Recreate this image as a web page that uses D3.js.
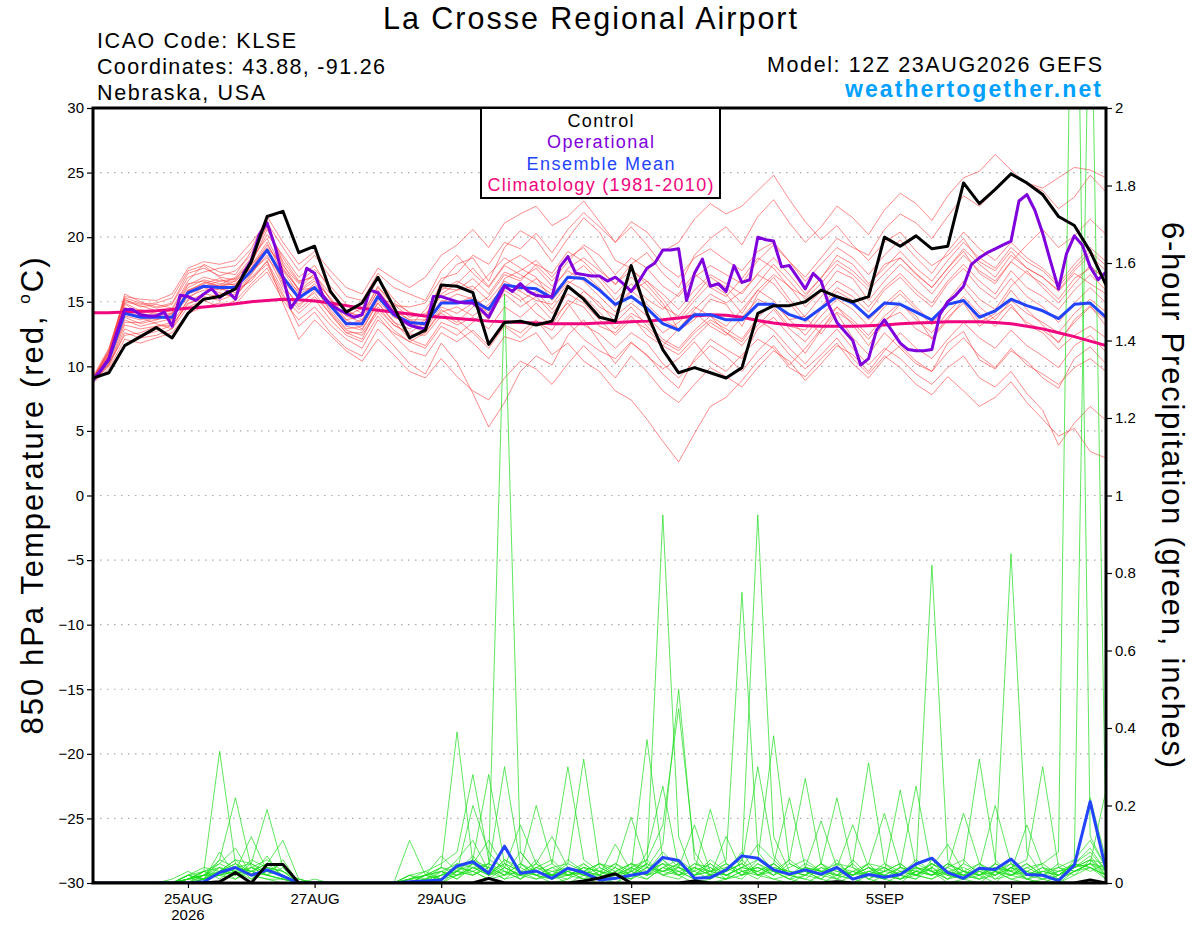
<!DOCTYPE html>
<html>
<head>
<meta charset="utf-8">
<script src="https://cdn.jsdelivr.net/npm/d3@7"></script>
<style>
body { margin: 0; background: #fff; }
svg { font-family: "Liberation Sans", Arial, Helvetica, sans-serif; }
</style>
</head>
<body>
<svg id="chart" width="1200" height="927"></svg>
<script>
// GEFS run 12Z 23AUG2026, 6-hourly members, 3-hourly operational
var runStart = Date.UTC(2026, 7, 23, 12);
var hourMs = 3600 * 1000;

var tickDates = [Date.UTC(2026, 7, 25), Date.UTC(2026, 7, 27), Date.UTC(2026, 7, 29),
    Date.UTC(2026, 8, 1), Date.UTC(2026, 8, 3), Date.UTC(2026, 8, 5), Date.UTC(2026, 8, 7)];
var tickLabels = ['25AUG', '27AUG', '29AUG', '1SEP', '3SEP', '5SEP', '7SEP'];
var tempTicks = [-30, -25, -20, -15, -10, -5, 0, 5, 10, 15, 20, 25, 30];
var precipTicks = [0, 0.2, 0.4, 0.6, 0.8, 1, 1.2, 1.4, 1.6, 1.8, 2];

// 850 hPa temperature (C)
var controlTemp = [9.1, 9.5, 11.6, 12.3, 13.0, 12.2, 14.1, 15.2, 15.4, 16.0,
    18.1, 21.6, 22.0, 18.8, 19.3, 15.8, 14.2, 14.9, 16.9, 14.6,
    12.2, 12.8, 16.3, 16.2, 15.7, 11.7, 13.4, 13.5, 13.2, 13.5,
    16.2, 15.2, 13.8, 13.5, 17.8, 14.1, 11.3, 9.5, 9.9, 9.5,
    9.1, 9.9, 14.1, 14.7, 14.7, 15.0, 15.9, 15.4, 15.0, 15.4,
    20.0, 19.3, 20.1, 19.1, 19.3, 24.2, 22.6, 23.7, 24.9, 24.2,
    23.3, 21.6, 20.9, 18.9, 16.3];

var operationalTemp = [9.0, 9.7, 10.6, 12.6, 14.4, 14.4, 14.0, 13.9, 13.9, 14.2,
    13.1, 15.5, 15.4, 15.1, 15.6, 16.0, 15.3, 15.8, 15.2, 17.2,
    18.2, 20.2, 21.1, 19.3, 16.9, 14.5, 15.4, 17.6, 17.2, 15.5,
    14.8, 14.4, 14.1, 13.8, 14.0, 15.9, 15.7, 14.9, 14.1, 13.6,
    13.2, 13.0, 12.9, 15.4, 15.4, 15.2, 15.0, 14.9, 14.9, 14.4,
    13.8, 15.0, 16.2, 15.8, 16.4, 15.8, 15.5, 15.4, 15.4, 17.7,
    18.5, 17.2, 17.1, 17.0, 17.0, 16.6, 16.9, 16.4, 15.8, 16.6,
    17.6, 18.0, 19.0, 19.0, 19.1, 15.1, 17.2, 18.3, 16.2, 16.4,
    15.8, 17.8, 16.5, 16.7, 20.0, 19.8, 19.7, 17.7, 17.8, 16.9,
    16.0, 17.2, 16.6, 14.7, 13.4, 12.7, 12.0, 10.1, 10.6, 12.8,
    13.6, 12.7, 11.8, 11.3, 11.2, 11.2, 11.3, 14.0, 15.0, 15.5,
    16.2, 17.9, 18.4, 18.8, 19.1, 19.4, 19.7, 22.8, 23.3, 22.1,
    20.3, 18.1, 16.0, 18.7, 20.1, 19.4, 17.7, 16.7, 17.3];

var meanTemp = [8.9, 10.5, 14.1, 13.8, 13.8, 13.8, 15.7, 16.2, 16.1, 16.1,
    17.4, 19.0, 16.9, 15.3, 16.1, 14.7, 13.3, 13.3, 15.4, 14.0,
    13.4, 13.3, 14.9, 14.9, 15.1, 14.4, 16.3, 16.1, 16.0, 15.3,
    16.9, 16.8, 15.9, 14.8, 15.4, 14.5, 13.3, 12.8, 14.0, 14.0,
    13.6, 13.6, 14.8, 14.8, 14.0, 13.6, 14.5, 15.4, 14.9, 13.8,
    14.9, 14.8, 14.2, 13.6, 14.8, 15.1, 13.8, 14.3, 15.2, 14.7,
    14.3, 13.7, 14.8, 14.9, 13.8];

var climoTemp = [14.15, 14.15, 14.2, 14.25, 14.3, 14.4, 14.5, 14.6, 14.7, 14.85,
    15.0, 15.1, 15.2, 15.15, 15.05, 14.9, 14.7, 14.5, 14.35, 14.2,
    14.05, 13.9, 13.8, 13.7, 13.6, 13.5, 13.45, 13.4, 13.35, 13.3,
    13.3, 13.3, 13.35, 13.4, 13.45, 13.5, 13.6, 13.75, 13.9, 14.0,
    13.95, 13.8, 13.55, 13.35, 13.2, 13.15, 13.1, 13.1, 13.1, 13.15,
    13.2, 13.3, 13.35, 13.4, 13.45, 13.45, 13.45, 13.4, 13.3, 13.1,
    12.9, 12.6, 12.3, 11.95, 11.6];

var tempMembers = [
    [9.0, 10.8, 15.6, 15.0, 14.6, 14.9, 17.2, 17.6, 17.0, 17.4, 18.6, 21.3, 17.5, 16.0, 17.2, 15.1, 13.9, 14.5, 16.8, 15.2,
     14.1, 13.8, 16.5, 17.9, 18.4, 16.6, 19.2, 20.5, 19.8, 18.1, 19.9, 21.5, 20.4, 18.2, 17.6, 16.3, 14.9, 12.8, 13.6, 15.2,
     14.8, 13.1, 15.6, 16.9, 15.2, 13.8, 12.5, 14.1, 12.2, 10.9, 12.6, 11.4, 10.2, 9.6, 11.8, 12.7, 10.5, 9.8, 11.2, 10.4,
     9.1, 8.3, 10.6, 11.5, 10.2],
    [8.8, 10.1, 12.9, 12.4, 12.7, 13.2, 14.8, 15.4, 15.1, 15.6, 16.8, 17.9, 15.6, 13.1, 14.2, 12.6, 11.4, 10.8, 12.9, 11.6,
     10.2, 9.4, 11.8, 10.3, 7.9, 5.3, 7.2, 9.6, 10.8, 10.1, 12.4, 13.6, 11.9, 10.2, 11.8, 10.9, 9.4, 8.3, 10.6, 12.1,
     11.3, 10.6, 12.9, 13.8, 12.4, 11.0, 12.8, 14.6, 13.2, 11.6, 13.4, 14.8, 13.9, 12.1, 13.6, 15.2, 13.4, 14.1, 15.9, 14.4,
     13.2, 11.8, 13.6, 14.7, 13.1],
    [9.1, 11.2, 14.9, 14.3, 14.0, 14.1, 16.3, 16.9, 16.6, 16.8, 18.1, 20.2, 18.6, 16.9, 17.8, 15.9, 14.2, 13.9, 15.8, 14.3,
     13.6, 13.1, 14.9, 15.6, 15.2, 14.1, 16.8, 17.4, 18.2, 16.9, 18.4, 19.2, 17.6, 16.3, 17.9, 18.8, 17.2, 16.1, 18.6, 19.9,
     20.8, 19.4, 21.6, 22.9, 21.1, 19.6, 20.8, 22.4, 21.5, 20.2, 22.1, 23.4, 22.6, 21.3, 23.2, 24.6, 25.1, 26.4, 25.2, 24.1,
     23.6, 22.2, 23.1, 24.8, 23.5],
    [8.9, 10.3, 13.6, 13.1, 13.4, 13.7, 15.4, 15.9, 16.0, 15.7, 17.2, 18.6, 16.2, 14.8, 15.7, 14.0, 12.6, 12.1, 14.6, 13.2,
     12.5, 12.4, 13.9, 13.2, 13.8, 12.9, 14.6, 13.8, 14.9, 13.6, 14.9, 13.2, 12.5, 11.4, 12.6, 11.8, 10.2, 9.1, 10.4, 11.6,
     10.8, 9.6, 11.2, 12.4, 10.9, 9.8, 10.9, 12.2, 10.6, 9.4, 10.8, 9.9, 8.6, 7.8, 9.2, 8.1, 6.9, 7.6, 8.8, 7.2,
     5.9, 4.6, 5.2, 3.4, 2.9],
    [9.0, 10.6, 14.3, 14.4, 14.1, 13.5, 15.9, 16.4, 16.8, 16.2, 17.8, 19.6, 17.1, 15.3, 16.4, 14.9, 13.1, 12.8, 14.9, 13.5,
     12.1, 11.6, 13.4, 12.9, 11.8, 10.6, 12.3, 11.9, 12.6, 10.9, 11.8, 10.4, 9.6, 8.1, 7.4, 5.9, 4.2, 2.6, 4.8, 6.9,
     7.6, 8.9, 10.4, 11.6, 10.1, 11.4, 12.9, 14.2, 13.4, 12.1, 13.6, 14.2, 12.9, 12.2, 13.8, 14.9, 13.1, 13.9, 14.8, 13.2,
     12.6, 11.3, 12.4, 13.1, 12.2],
    [9.2, 11.4, 15.2, 14.6, 14.8, 14.5, 16.6, 17.9, 17.3, 17.1, 18.9, 20.8, 18.1, 16.5, 17.5, 16.2, 14.8, 14.1, 16.1, 14.7,
     14.6, 14.9, 16.8, 17.2, 18.6, 17.9, 19.6, 19.1, 20.3, 18.8, 20.6, 21.9, 20.8, 19.6, 21.2, 20.4, 18.9, 19.6, 21.4, 22.6,
     21.8, 22.4, 23.6, 24.8, 22.9, 21.2, 19.8, 20.9, 19.4, 18.2, 19.6, 20.4, 18.9, 17.8, 18.6, 19.9, 18.1, 17.4, 18.9, 17.6,
     16.9, 15.8, 17.2, 16.4, 15.6],
    [8.7, 9.8, 12.1, 11.8, 12.2, 12.6, 14.1, 14.6, 14.9, 14.8, 16.2, 17.3, 15.1, 13.6, 14.6, 13.2, 12.1, 11.4, 13.6, 12.6,
     11.9, 12.6, 14.2, 14.6, 13.9, 14.8, 16.2, 15.4, 14.1, 13.2, 15.1, 14.6, 13.1, 12.6, 13.9, 12.4, 11.6, 12.9, 14.2, 13.1,
     12.4, 13.8, 15.2, 14.6, 13.1, 12.8, 14.4, 15.8, 15.1, 13.6, 14.8, 15.9, 14.6, 13.4, 15.1, 16.6, 15.2, 14.4, 16.2, 17.4,
     16.1, 14.9, 16.4, 17.8, 16.6],
    [9.0, 10.9, 14.6, 13.9, 13.6, 13.9, 15.8, 16.5, 16.2, 16.6, 17.6, 19.2, 17.8, 16.4, 17.1, 15.6, 14.4, 13.6, 15.2, 14.9,
     14.2, 13.9, 15.6, 16.4, 17.6, 16.2, 17.9, 18.6, 17.8, 16.6, 18.1, 19.4, 18.6, 17.1, 18.4, 17.6, 16.2, 15.4, 16.9, 17.8,
     17.1, 16.4, 18.2, 19.4, 18.1, 16.9, 18.4, 19.9, 19.2, 18.6, 20.6, 21.8, 21.1, 19.9, 21.6, 23.2, 22.4, 23.6, 24.9, 24.2,
     23.8, 24.6, 25.4, 25.2, 24.6],
    [8.8, 10.2, 13.2, 12.9, 13.1, 13.4, 15.1, 15.6, 15.4, 15.9, 16.6, 18.2, 14.9, 12.1, 13.6, 12.4, 11.2, 10.4, 12.1, 10.9,
     9.6, 9.1, 10.6, 9.2, 8.1, 7.4, 9.1, 10.4, 9.8, 8.6, 10.2, 11.6, 10.4, 9.1, 10.8, 9.6, 8.1, 7.2, 8.6, 9.9,
     9.2, 8.4, 9.9, 11.2, 10.4, 8.9, 10.2, 11.6, 10.9, 9.6, 11.2, 12.6, 11.4, 10.6, 12.1, 13.4, 12.2, 11.4, 12.8, 11.6,
     10.8, 9.9, 11.6, 12.4, 11.1],
    [9.1, 11.0, 15.0, 14.7, 14.3, 14.2, 16.1, 16.7, 16.4, 16.3, 17.9, 20.6, 18.4, 16.6, 16.9, 14.6, 13.4, 13.2, 15.4, 13.9,
     13.1, 14.4, 16.1, 15.9, 16.8, 15.6, 17.3, 16.8, 17.6, 16.2, 17.4, 16.6, 15.4, 14.2, 15.8, 16.6, 15.2, 13.6, 15.1, 16.4,
     15.6, 14.1, 15.9, 17.1, 16.2, 14.6, 15.8, 17.4, 16.8, 15.1, 16.6, 17.9, 16.8, 15.6, 17.2, 18.6, 17.4, 16.6, 18.1, 19.4,
     20.6, 19.2, 20.1, 21.4, 20.2],
    [8.9, 10.4, 13.9, 13.6, 13.9, 13.6, 15.6, 16.1, 15.7, 15.4, 17.1, 18.9, 16.6, 15.2, 16.1, 14.4, 12.9, 13.1, 15.1, 13.8,
     13.4, 12.9, 14.6, 14.1, 14.9, 13.6, 15.9, 15.1, 15.8, 14.4, 16.1, 15.4, 14.2, 12.9, 14.1, 13.4, 12.1, 11.4, 12.8, 13.9,
     12.6, 11.9, 13.6, 12.8, 11.4, 10.2, 11.6, 12.9, 11.4, 10.1, 11.4, 10.6, 9.4, 8.6, 9.9, 10.8, 9.1, 8.4, 9.6, 7.9,
     6.6, 3.9, 5.6, 6.9, 5.8],
    [9.0, 11.3, 15.4, 15.2, 15.1, 15.6, 17.6, 18.1, 17.9, 18.2, 19.6, 21.1, 19.2, 17.4, 18.6, 16.9, 15.4, 15.1, 17.2, 16.1,
     15.6, 15.1, 17.4, 18.6, 17.2, 16.1, 17.8, 17.1, 16.4, 15.6, 16.9, 17.8, 16.6, 15.1, 16.4, 15.2, 14.4, 15.6, 17.2, 16.1,
     15.4, 16.8, 18.4, 17.6, 16.1, 15.4, 16.9, 18.2, 17.4, 16.2, 17.9, 18.4, 17.1, 16.1, 17.6, 18.9, 17.2, 16.4, 18.1, 17.2,
     16.4, 15.2, 16.8, 17.6, 16.9],
    [8.8, 10.0, 12.6, 12.2, 12.4, 12.9, 14.6, 15.1, 14.6, 15.1, 16.4, 17.6, 15.4, 14.1, 15.2, 13.6, 12.4, 11.9, 13.9, 12.4,
     11.2, 10.8, 12.6, 11.9, 12.8, 11.6, 13.2, 12.6, 13.6, 12.1, 13.4, 12.1, 11.2, 10.6, 11.9, 10.8, 9.8, 10.6, 11.9, 10.4,
     9.6, 10.9, 12.1, 11.4, 9.9, 9.2, 10.6, 11.8, 10.2, 9.1, 10.6, 11.6, 10.4, 9.6, 11.1, 12.2, 10.8, 9.9, 11.4, 10.1,
     9.4, 8.6, 9.9, 10.6, 9.6],
    [9.1, 11.1, 15.3, 14.9, 14.5, 14.8, 16.9, 17.3, 17.6, 17.8, 19.1, 21.6, 19.6, 17.9, 18.9, 17.4, 16.1, 15.6, 17.6, 16.8,
     16.1, 16.9, 18.6, 19.4, 20.6, 19.2, 21.1, 21.8, 22.4, 20.9, 21.6, 22.8, 21.2, 19.6, 20.8, 19.4, 17.8, 16.9, 18.4, 19.1,
     18.2, 17.4, 18.9, 19.6, 18.1, 16.6, 17.9, 19.2, 18.4, 17.1, 18.6, 19.8, 18.4, 17.2, 18.9, 20.4, 19.1, 18.2, 19.6, 18.4,
     17.6, 16.4, 17.9, 19.2, 18.1],
    [9.0, 10.7, 14.4, 13.8, 13.3, 12.9, 15.2, 16.2, 16.3, 16.9, 18.4, 19.9, 17.4, 15.6, 16.2, 14.2, 12.8, 12.4, 14.2, 12.8,
     11.9, 11.4, 13.1, 12.4, 13.4, 14.6, 16.4, 15.8, 15.1, 14.8, 16.4, 17.2, 16.1, 14.6, 15.9, 14.8, 13.6, 12.9, 14.4, 15.6,
     14.9, 15.8, 17.1, 16.4, 14.9, 13.4, 14.6, 16.1, 15.4, 14.2, 15.9, 16.9, 15.6, 14.6, 16.4, 17.6, 16.1, 15.2, 16.8, 15.4,
     14.6, 13.4, 14.9, 16.1, 14.9],
    [8.9, 10.5, 13.4, 13.4, 13.8, 14.0, 15.9, 16.3, 15.9, 16.1, 17.4, 18.4, 16.9, 15.8, 16.6, 15.3, 13.9, 13.4, 15.6, 14.1,
     13.2, 12.6, 14.4, 13.6, 12.6, 11.4, 13.1, 12.2, 13.4, 12.8, 14.6, 15.8, 14.9, 13.4, 14.6, 13.1, 11.9, 11.2, 12.6, 13.6,
     12.9, 12.1, 13.8, 14.9, 13.6, 12.4, 13.9, 15.2, 14.4, 13.1, 14.6, 15.6, 14.4, 13.2, 14.9, 16.1, 14.6, 13.6, 15.1, 14.1,
     13.4, 12.6, 14.1, 15.2, 14.2],
    [9.0, 10.9, 14.8, 14.1, 13.9, 14.4, 16.4, 16.6, 16.2, 16.4, 17.6, 19.4, 17.6, 15.9, 16.8, 15.2, 13.6, 13.9, 16.2, 14.8,
     13.8, 14.1, 15.4, 15.9, 16.2, 15.1, 16.6, 15.9, 16.8, 15.9, 17.6, 18.4, 17.4, 16.4, 17.4, 16.6, 15.6, 14.4, 15.9, 17.1,
     16.4, 15.6, 17.2, 18.4, 17.1, 15.6, 16.8, 18.6, 17.9, 16.4, 17.6, 18.9, 17.6, 16.6, 18.2, 19.6, 18.4, 17.6, 19.2, 18.1,
     17.4, 16.2, 17.6, 18.9, 17.8],
    [8.8, 10.2, 12.4, 12.6, 13.1, 13.2, 14.9, 15.2, 15.6, 15.4, 16.9, 18.1, 15.9, 14.4, 15.4, 14.1, 12.6, 12.6, 14.4, 13.2,
     12.6, 13.4, 15.1, 14.9, 15.4, 14.4, 15.6, 14.6, 15.4, 14.1, 15.6, 14.9, 13.6, 12.4, 13.6, 12.9, 11.6, 10.9, 12.2, 13.4,
     12.6, 11.6, 13.2, 14.4, 12.9, 11.9, 13.4, 14.6, 13.6, 12.4, 13.9, 14.9, 13.6, 12.6, 14.2, 15.4, 14.1, 13.1, 14.6, 13.4,
     12.8, 11.9, 13.4, 14.6, 13.6],
    [9.1, 11.1, 15.1, 14.8, 14.9, 15.3, 17.4, 17.8, 16.9, 16.7, 18.2, 20.9, 17.9, 15.9, 16.1, 14.8, 13.6, 12.9, 14.9, 13.4,
     12.9, 13.6, 15.9, 16.6, 15.9, 17.1, 18.4, 17.6, 16.9, 15.1, 16.6, 15.9, 14.6, 13.9, 14.9, 13.9, 12.6, 13.4, 14.6, 13.9,
     13.1, 14.4, 15.9, 15.1, 13.6, 13.9, 15.4, 16.6, 15.9, 14.6, 16.1, 17.2, 15.9, 14.9, 16.6, 17.9, 16.6, 15.6, 17.4, 16.1,
     15.4, 14.4, 15.9, 17.1, 15.9],
    [8.9, 10.4, 13.8, 13.3, 13.6, 14.1, 15.6, 16.2, 16.6, 16.6, 17.9, 19.1, 16.4, 14.6, 15.9, 14.6, 13.2, 13.6, 15.9, 14.4,
     13.6, 13.6, 14.1, 13.4, 14.6, 15.4, 17.1, 16.6, 17.9, 17.2, 18.9, 18.1, 16.9, 15.6, 16.9, 15.9, 14.6, 13.9, 15.4, 16.9,
     16.1, 14.9, 16.4, 17.9, 16.6, 15.2, 16.4, 17.9, 17.1, 15.9, 17.2, 18.4, 17.2, 16.1, 17.6, 19.1, 17.9, 16.9, 18.6, 17.6,
     16.9, 15.9, 17.4, 18.6, 17.4]
];

// 6-hour precipitation (inches)
var controlPrecip = [0, 0, 0, 0, 0, 0, 0, 0, 0.003, 0.027,
    0, 0.048, 0.048, 0, 0, 0, 0, 0, 0, 0,
    0, 0, 0, 0, 0, 0.012, 0, 0, 0, 0,
    0, 0.005, 0.013, 0.024, 0, 0, 0, 0, 0.005, 0,
    0, 0, 0, 0, 0, 0, 0, 0.003, 0, 0,
    0, 0, 0, 0, 0, 0, 0, 0, 0, 0,
    0, 0, 0, 0.008, 0];

var meanPrecip = [0, 0, 0, 0, 0, 0, 0, 0.003, 0.027, 0.04,
    0.02, 0.034, 0.018, 0, 0, 0, 0, 0, 0, 0,
    0.003, 0.005, 0.008, 0.044, 0.055, 0.025, 0.095, 0.025, 0.031, 0.012,
    0.038, 0.027, 0.008, 0.012, 0.02, 0.027, 0.066, 0.058, 0.012, 0.014,
    0.034, 0.07, 0.064, 0.034, 0.023, 0.034, 0.023, 0.04, 0.01, 0.022,
    0.015, 0.022, 0.049, 0.064, 0.027, 0.012, 0.038, 0.035, 0.062, 0.022,
    0.02, 0.006, 0.046, 0.21, 0.034];

var precipMembers = [
    [0, 0, 0, 0, 0, 0, 0.01, 0.03, 0.34, 0.05, 0.02, 0.01, 0, 0, 0, 0, 0, 0, 0, 0,
     0, 0, 0.02, 0.06, 0.11, 0.03, 0.01, 0.04, 0.02, 0, 0.01, 0.05, 0.02, 0, 0.03, 0.37, 0.06, 0.02, 0, 0.01,
     0.03, 0.08, 0.02, 0.01, 0, 0.02, 0.05, 0.01, 0, 0.02, 0.01, 0.04, 0.25, 0.03, 0, 0.01, 0.02, 0, 0.04, 0.01,
     0, 0, 0.03, 0.05, 0.02],
    [0, 0, 0, 0, 0, 0, 0, 0.01, 0.06, 0.22, 0.04, 0.02, 0.01, 0, 0, 0, 0, 0, 0, 0,
     0, 0, 0, 0.03, 0.07, 0.02, 0.05, 0.01, 0.03, 0.02, 0, 0.02, 0.01, 0.04, 0.02, 0.05, 0.95, 0.12, 0.01, 0,
     0.01, 0.02, 0.06, 0.03, 0.01, 0, 0.02, 0.04, 0.01, 0, 0.02, 0.01, 0.03, 0.82, 0.06, 0.01, 0, 0.03, 0.01, 0,
     0.01, 0.02, 0.05, 0.08, 0.03],
    [0, 0, 0, 0, 0, 0, 0.02, 0.01, 0.04, 0.03, 0.12, 0.03, 0.02, 0, 0, 0, 0, 0, 0, 0,
     0, 0.01, 0, 0.02, 0.05, 0.11, 0.04, 0.02, 0.06, 0.01, 0.03, 0.01, 0, 0.02, 0.01, 0.08, 0.25, 0.04, 0.02, 0.05,
     0.02, 0.04, 0.1, 0.06, 0.02, 0.01, 0, 0.02, 0.05, 0.01, 0, 0.02, 0.01, 0.04, 0.1, 0.03, 0.01, 0.02, 0.06, 0.02,
     0.01, 0, 0.02, 0.04, 0.01],
    [0, 0, 0, 0, 0, 0, 0, 0.02, 0.03, 0.06, 0.05, 0.19, 0.04, 0, 0, 0, 0, 0, 0, 0,
     0, 0, 0.01, 0.05, 0.02, 0.04, 0.02, 0.08, 0.03, 0.02, 0.06, 0.03, 0.01, 0, 0.02, 0.04, 0.1, 0.5, 0.06, 0.02,
     0.01, 0.03, 0.04, 0.02, 0.06, 0.03, 0.01, 0, 0.02, 0.04, 0.01, 0, 0.03, 0.02, 0.04, 0.18, 0.05, 0.01, 0.02, 0.03,
     0.02, 0.01, 0.06, 0.11, 0.04],
    [0, 0, 0, 0, 0, 0, 0.01, 0.02, 0.02, 0.04, 0.03, 0.05, 0.11, 0.01, 0, 0, 0, 0, 0, 0,
     0.01, 0, 0.03, 0.01, 0.04, 0.02, 0.06, 0.03, 0.01, 0.02, 0.02, 0.04, 0.01, 0.01, 0.03, 0.06, 0.15, 0.45, 0.08, 0.02,
     0.01, 0.06, 0.02, 0.03, 0.01, 0.04, 0.02, 0.06, 0.01, 0.03, 0.02, 0.01, 0.04, 0.03, 0.01, 0.05, 0.32, 0.06, 0.02, 0.01,
     0, 0.02, 0.04, 0.06, 0.02],
    [0, 0, 0, 0, 0, 0.01, 0.03, 0.01, 0.08, 0.02, 0.06, 0.04, 0.03, 0, 0.01, 0, 0, 0, 0, 0,
     0.11, 0.02, 0.01, 0.04, 0.03, 0.01, 0.02, 0.05, 0.02, 0.01, 0.03, 0.02, 0.04, 0.02, 0.05, 0.03, 0.08, 0.04, 0.15, 0.03,
     0.02, 0.01, 0.05, 0.02, 0.04, 0.06, 0.03, 0.02, 0.01, 0.02, 0.04, 0.02, 0.01, 0.06, 0.02, 0.01, 0.04, 0.2, 0.05, 0.01,
     0.02, 0.01, 0.03, 0.05, 0.01],
    [0, 0, 0, 0, 0, 0, 0, 0.03, 0.05, 0.09, 0.02, 0.07, 0.01, 0.01, 0, 0, 0, 0, 0, 0,
     0, 0.02, 0.07, 0.03, 0.06, 0.04, 0.01, 0.02, 0.04, 0.06, 0.02, 0.01, 0.03, 0.05, 0.02, 0.01, 0.04, 0.06, 0.03, 0.19,
     0.05, 0.02, 0.03, 0.01, 0.02, 0.01, 0.04, 0.03, 0.02, 0.05, 0.01, 0.03, 0.02, 0.01, 0.03, 0.02, 0.01, 0.05, 0.85, 0.08,
     0.02, 0.01, 0.04, 0.07, 0.02],
    [0, 0, 0, 0, 0, 0, 0.01, 0.02, 0.04, 0.01, 0.04, 0.02, 0.06, 0, 0, 0, 0, 0, 0, 0,
     0, 0.01, 0.04, 0.39, 0.05, 0.02, 0.03, 0.01, 0.05, 0.02, 0.01, 0.03, 0.02, 0.01, 0.04, 0.02, 0.06, 0.03, 0.01, 0.02,
     0.12, 0.03, 0.01, 0.05, 0.02, 0.03, 0.01, 0.05, 0.04, 0.01, 0.03, 0.05, 0.02, 0.04, 0.01, 0.03, 0.02, 0.04, 0.03, 0.15,
     0.04, 0.02, 0.05, 0.09, 0.03],
    [0, 0, 0, 0, 0, 0, 0.02, 0.04, 0.03, 0.05, 0.01, 0.03, 0.02, 0, 0, 0, 0, 0, 0, 0,
     0.02, 0.03, 0.05, 0.08, 0.28, 0.06, 0.04, 0.02, 0.01, 0.03, 0.04, 0.02, 0.01, 0.03, 0.05, 0.04, 0.02, 0.01, 0.04, 0.03,
     0.06, 0.75, 0.08, 0.03, 0.01, 0.02, 0.05, 0.03, 0.02, 0.04, 0.02, 0.01, 0.03, 0.02, 0.05, 0.02, 0.03, 0.01, 0.04, 0.06,
     0.3, 0.04, 0.02, 0.06, 0.05],
    [0, 0, 0, 0, 0, 0, 0.01, 0.01, 0.02, 0.03, 0.02, 0.01, 0.01, 0, 0, 0, 0, 0, 0, 0,
     0, 0, 0.02, 0.03, 0.2, 0.08, 0.03, 0.01, 0.04, 0.02, 0.05, 0.03, 0.02, 0.04, 0.01, 0.03, 0.05, 0.02, 0.03, 0.01,
     0.04, 0.06, 0.95, 0.12, 0.03, 0.02, 0.01, 0.04, 0.02, 0.03, 0.04, 0.02, 0.06, 0.03, 0.01, 0.02, 0.05, 0.03, 0.02, 0.04,
     0.02, 0.05, 0.03, 0.04, 0.02],
    [0, 0, 0, 0, 0, 0, 0, 0.01, 0.02, 0.01, 0.03, 0.02, 0.01, 0, 0, 0, 0, 0, 0, 0,
     0.01, 0.02, 0.01, 0.04, 0.06, 0.28, 0.05, 0.03, 0.02, 0.01, 0.02, 0.04, 0.03, 0.01, 0.02, 0.05, 0.03, 0.04, 0.02, 0.06,
     0.03, 0.05, 0.3, 0.07, 0.02, 0.04, 0.03, 0.01, 0.06, 0.02, 0.01, 0.03, 0.04, 0.02, 0.03, 0.01, 0.04, 0.02, 0.05, 0.03,
     0.05, 0.08, 3.0, 0.12, 0.04],
    [0, 0, 0, 0, 0, 0, 0.01, 0.03, 0.02, 0.04, 0.05, 0.03, 0.02, 0, 0, 0, 0, 0, 0, 0,
     0, 0.01, 0.03, 0.02, 0.04, 0.05, 1.52, 0.08, 0.03, 0.02, 0.03, 0.01, 0.02, 0.05, 0.03, 0.01, 0.04, 0.02, 0.05, 0.03,
     0.02, 0.04, 0.06, 0.38, 0.05, 0.03, 0.02, 0.01, 0.03, 0.02, 0.05, 0.03, 0.02, 0.01, 0.04, 0.06, 0.02, 0.03, 0.01, 0.02,
     0.03, 0.04, 0.06, 2.5, 0.1],
    [0, 0, 0, 0, 0, 0, 0, 0.02, 0.05, 0.03, 0.01, 0.04, 0.02, 0, 0, 0, 0, 0, 0, 0,
     0.02, 0, 0.01, 0.03, 0.02, 0.04, 0.3, 0.05, 0.02, 0.04, 0.02, 0.03, 0.05, 0.02, 0.01, 0.04, 0.03, 0.05, 0.02, 0.04,
     0.01, 0.03, 0.02, 0.05, 0.22, 0.04, 0.03, 0.02, 0.01, 0.03, 0.02, 0.04, 0.03, 0.05, 0.02, 0.01, 0.03, 0.04, 0.02, 0.05,
     0.02, 0.03, 0.04, 0.22, 0.06],
    [0, 0, 0, 0, 0, 0, 0.02, 0.01, 0.03, 0.02, 0.04, 0.06, 0.03, 0.01, 0, 0, 0, 0, 0, 0,
     0, 0.02, 0.04, 0.02, 0.03, 0.01, 0.04, 0.15, 0.05, 0.02, 0.04, 0.02, 0.01, 0.03, 0.05, 0.02, 0.04, 0.03, 0.01, 0.02,
     0.05, 0.02, 0.04, 0.03, 0.06, 0.27, 0.05, 0.02, 0.03, 0.01, 0.03, 0.02, 0.05, 0.03, 0.04, 0.02, 0.01, 0.03, 0.05, 0.02,
     0.04, 0.01, 0.03, 0.05, 0.24],
    [0, 0, 0, 0, 0, 0, 0.01, 0.02, 0.06, 0.04, 0.02, 0.03, 0.05, 0, 0, 0, 0, 0, 0, 0,
     0.01, 0.02, 0.03, 0.05, 0.04, 0.02, 0.06, 0.04, 0.2, 0.05, 0.02, 0.04, 0.03, 0.02, 0.04, 0.06, 0.02, 0.04, 0.03, 0.05,
     0.02, 0.04, 0.03, 0.05, 0.02, 0.04, 0.16, 0.04, 0.02, 0.05, 0.04, 0.01, 0.02, 0.05, 0.03, 0.04, 0.02, 0.05, 0.03, 0.01,
     0.03, 0.02, 0.05, 0.04, 0.02],
    [0, 0, 0, 0, 0, 0, 0, 0.01, 0.03, 0.05, 0.03, 0.02, 0.04, 0, 0, 0, 0, 0, 0, 0,
     0, 0.01, 0.02, 0.04, 0.03, 0.05, 0.02, 0.03, 0.05, 0.12, 0.04, 0.02, 0.05, 0.03, 0.02, 0.03, 0.05, 0.02, 0.04, 0.02,
     0.03, 0.05, 0.02, 0.04, 0.03, 0.02, 0.05, 0.22, 0.04, 0.02, 0.03, 0.05, 0.02, 0.04, 0.02, 0.03, 0.05, 0.02, 0.04, 0.03,
     0.01, 0.03, 0.04, 0.06, 0.03],
    [0, 0, 0, 0, 0, 0, 0.01, 0.03, 0.04, 0.02, 0.05, 0.02, 0.01, 0, 0, 0, 0, 0, 0, 0,
     0.02, 0.01, 0.02, 0.03, 0.05, 0.02, 0.04, 0.02, 0.03, 0.05, 0.3, 0.06, 0.03, 0.02, 0.04, 0.02, 0.03, 0.05, 0.02, 0.03,
     0.04, 0.02, 0.05, 0.03, 0.02, 0.05, 0.03, 0.04, 0.15, 0.04, 0.02, 0.04, 0.03, 0.02, 0.05, 0.03, 0.02, 0.04, 0.03, 0.05,
     0.02, 0.04, 0.03, 0.05, 0.04],
    [0, 0, 0, 0, 0, 0, 0.02, 0.01, 0.03, 0.06, 0.02, 0.04, 0.03, 0, 0, 0, 0, 0, 0, 0,
     0.01, 0.03, 0.01, 0.02, 0.04, 0.03, 0.05, 0.03, 0.02, 0.04, 0.05, 0.32, 0.04, 0.02, 0.03, 0.05, 0.02, 0.03, 0.04, 0.02,
     0.03, 0.05, 0.02, 0.04, 0.03, 0.02, 0.04, 0.02, 0.05, 0.31, 0.05, 0.02, 0.04, 0.03, 0.02, 0.05, 0.03, 0.02, 0.04, 0.02,
     0.03, 0.02, 0.05, 0.03, 0.05],
    [0, 0, 0, 0, 0, 0, 0.01, 0.02, 0.02, 0.03, 0.04, 0.03, 0.02, 0, 0, 0, 0, 0, 0, 0,
     0, 0.02, 0.03, 0.01, 0.05, 0.04, 0.02, 0.05, 0.03, 0.02, 0.03, 0.05, 0.02, 0.1, 0.03, 0.02, 0.05, 0.04, 0.02, 0.03,
     0.05, 0.03, 0.04, 0.02, 0.05, 0.03, 0.02, 0.04, 0.03, 0.05, 0.18, 0.04, 0.02, 0.05, 0.03, 0.02, 0.04, 0.03, 0.02, 0.04,
     0.05, 0.02, 0.04, 0.05, 0.03],
    [0, 0, 0, 0, 0, 0, 0.02, 0.03, 0.01, 0.04, 0.03, 0.05, 0.02, 0, 0, 0, 0, 0, 0, 0,
     0.01, 0.02, 0.04, 0.03, 0.02, 0.05, 0.03, 0.02, 0.04, 0.03, 0.02, 0.03, 0.05, 0.04, 0.17, 0.04, 0.03, 0.02, 0.05, 0.04,
     0.02, 0.04, 0.03, 0.05, 0.02, 0.04, 0.03, 0.05, 0.02, 0.04, 0.03, 0.24, 0.04, 0.02, 0.05, 0.03, 0.02, 0.05, 0.03, 0.02,
     0.04, 0.03, 0.05, 0.04, 0.02]
];

var svgWidth = 1200;
var svgHeight = 927;
var margin = { top: 108, right: 94, bottom: 44, left: 93 };
var width = svgWidth - margin.left - margin.right;
var height = svgHeight - margin.top - margin.bottom;

var svg = d3.select('#chart');

var times6 = meanTemp.map((d, i) => new Date(runStart + i * 6 * hourMs));
var times3 = operationalTemp.map((d, i) => new Date(runStart + i * 3 * hourMs));

var xScale = d3.scaleUtc()
    .domain([new Date(runStart), times6[times6.length - 1]])
    .range([0, width]);
var yTemp = d3.scaleLinear().domain([-30, 30]).range([height, 0]);
var yPrecip = d3.scaleLinear().domain([0, 2]).range([height, 0]);

var chartGroup = svg.append('g')
    .attr('transform', `translate(${margin.left}, ${margin.top})`);

svg.append('defs').append('clipPath')
    .attr('id', 'plotClip')
    .append('rect')
    .attr('width', width)
    .attr('height', height);

// dotted grid on the temperature ticks
chartGroup.append('g')
    .selectAll('line')
    .data(tempTicks.slice(1, -1))
    .enter()
    .append('line')
    .attr('x1', 0)
    .attr('x2', width)
    .attr('y1', d => yTemp(d))
    .attr('y2', d => yTemp(d))
    .attr('stroke', '#aaaaaa')
    .attr('stroke-width', 1.2)
    .attr('stroke-dasharray', '1.5,5.5');

var plot = chartGroup.append('g').attr('clip-path', 'url(#plotClip)');

var tempLine6 = d3.line().x((d, i) => xScale(times6[i])).y(d => yTemp(d));
var tempLine3 = d3.line().x((d, i) => xScale(times3[i])).y(d => yTemp(d));
var precipLine = d3.line().x((d, i) => xScale(times6[i])).y(d => yPrecip(d));

plot.selectAll('.member')
    .data(tempMembers)
    .enter()
    .append('path')
    .attr('class', 'member')
    .attr('d', tempLine6)
    .attr('fill', 'none')
    .attr('stroke', '#ff3b3b')
    .attr('stroke-opacity', 0.85)
    .attr('stroke-width', 0.7);

plot.selectAll('.pmember')
    .data(precipMembers)
    .enter()
    .append('path')
    .attr('class', 'pmember')
    .attr('d', precipLine)
    .attr('fill', 'none')
    .attr('stroke', '#19dc19')
    .attr('stroke-width', 0.7);

function thickLine(data, gen, color) {
    plot.append('path')
        .datum(data)
        .attr('d', gen)
        .attr('fill', 'none')
        .attr('stroke', color)
        .attr('stroke-width', 3)
        .attr('stroke-linejoin', 'round');
}

thickLine(climoTemp, tempLine6, '#f0067e');
thickLine(meanPrecip, precipLine, '#2244ff');
thickLine(controlPrecip, precipLine, '#000000');
thickLine(meanTemp, tempLine6, '#2244ff');
thickLine(operationalTemp, tempLine3, '#7f00dd');
thickLine(controlTemp, tempLine6, '#000000');

// axes
var leftAxis = d3.axisLeft(yTemp).tickValues(tempTicks).tickSize(6).tickPadding(3);
var rightAxis = d3.axisRight(yPrecip).tickValues(precipTicks).tickSize(6).tickPadding(3)
    .tickFormat(d => d3.format('~g')(d));
var bottomAxis = d3.axisBottom(xScale)
    .tickValues(tickDates.map(d => new Date(d)))
    .tickSize(5)
    .tickPadding(5)
    .tickFormat((d, i) => tickLabels[i]);

function styleAxis(g) {
    g.select('.domain').remove();
    g.selectAll('text').attr('font-size', 15).attr('fill', '#000')
        .attr('font-family', '"Liberation Sans", Arial, sans-serif');
    g.selectAll('line').attr('stroke', '#000').attr('stroke-width', 1.2);
}

chartGroup.append('g').call(leftAxis).call(styleAxis);
chartGroup.append('g').attr('transform', `translate(${width}, 0)`).call(rightAxis).call(styleAxis);
var xg = chartGroup.append('g').attr('transform', `translate(0, ${height})`).call(bottomAxis).call(styleAxis);
xg.append('text')
    .attr('x', xScale(new Date(tickDates[0])))
    .attr('y', 37)
    .attr('text-anchor', 'middle')
    .attr('font-size', 15)
    .attr('fill', '#000')
    .text('2026');

// frame
chartGroup.append('rect')
    .attr('width', width)
    .attr('height', height)
    .attr('fill', 'none')
    .attr('stroke', '#000')
    .attr('stroke-width', 3);

// legend
var legend = chartGroup.append('g').attr('transform', 'translate(388, 0)');
legend.append('rect')
    .attr('width', 239)
    .attr('height', 90)
    .attr('fill', '#fff')
    .attr('stroke', '#000')
    .attr('stroke-width', 2);
var legendItems = [['Control', '#000000', 66], ['Operational', '#7f00dd', 107],
    ['Ensemble Mean', '#2244ff', 148], ['Climatology (1981-2010)', '#f0067e', 226]];
legend.selectAll('text')
    .data(legendItems)
    .enter()
    .append('text')
    .attr('x', 119.5)
    .attr('y', (d, i) => 19 + i * 21.4)
    .attr('text-anchor', 'middle')
    .attr('font-size', 18)
    .attr('textLength', d => d[2])
    .attr('lengthAdjust', 'spacing')
    .attr('fill', d => d[1])
    .text(d => d[0]);

// header texts
svg.append('text')
    .attr('x', 590).attr('y', 29)
    .attr('text-anchor', 'middle')
    .attr('font-size', 30.5)
    .attr('textLength', 414)
    .attr('lengthAdjust', 'spacing')
    .text('La Crosse Regional Airport');

var infoLines = [['ICAO Code: KLSE', 199], ['Coordinates: 43.88, -91.26', 288], ['Nebraska, USA', 168]];
svg.selectAll('.info')
    .data(infoLines)
    .enter()
    .append('text')
    .attr('class', 'info')
    .attr('x', 97)
    .attr('y', (d, i) => 48 + i * 26)
    .attr('font-size', 21.5)
    .attr('textLength', d => d[1])
    .attr('lengthAdjust', 'spacing')
    .text(d => d[0]);

svg.append('text')
    .attr('x', 1102).attr('y', 72)
    .attr('text-anchor', 'end')
    .attr('font-size', 21.5)
    .attr('textLength', 335)
    .attr('lengthAdjust', 'spacing')
    .text('Model: 12Z 23AUG2026 GEFS');

svg.append('text')
    .attr('x', 1101).attr('y', 97)
    .attr('text-anchor', 'end')
    .attr('font-size', 23)
    .attr('font-weight', 'bold')
    .attr('textLength', 256)
    .attr('lengthAdjust', 'spacing')
    .attr('fill', '#00a0ff')
    .text('weathertogether.net');

// axis titles
var leftTitle = svg.append('text')
    .attr('transform', `translate(43, 496) rotate(-90)`)
    .attr('text-anchor', 'middle')
    .attr('font-size', 31)
    .attr('textLength', 477)
    .attr('lengthAdjust', 'spacing');
leftTitle.append('tspan').text('850 hPa Temperature (red, ');
leftTitle.append('tspan').attr('font-size', 17).attr('dy', -13).text('o');
leftTitle.append('tspan').attr('dy', 13).text('C)');

svg.append('text')
    .attr('transform', `translate(1162, 495) rotate(90)`)
    .attr('text-anchor', 'middle')
    .attr('font-size', 31)
    .attr('textLength', 546)
    .attr('lengthAdjust', 'spacing')
    .text('6-hour Precipitation (green, inches)');
</script>
</body>
</html>
